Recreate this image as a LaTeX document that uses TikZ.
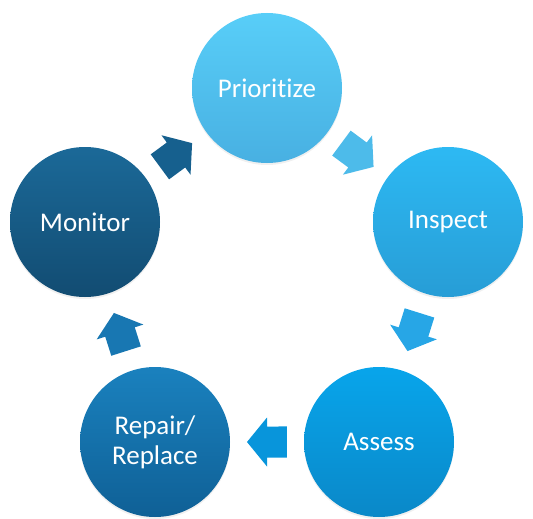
\documentclass[tikz,border=0pt]{standalone}
\usepackage{fontspec}
\setmainfont{Carlito}[Ligatures={NoCommon}]
\usetikzlibrary{calc,shadows}
\definecolor{pTop}{HTML}{58CEF8}\definecolor{pBot}{HTML}{48B0E2}
\definecolor{iTop}{HTML}{2DB9F3}\definecolor{iBot}{HTML}{279DD6}
\definecolor{aTop}{HTML}{08A5EB}\definecolor{aBot}{HTML}{0A88C8}
\definecolor{rTop}{HTML}{1A81BE}\definecolor{rBot}{HTML}{0F6096}
\definecolor{mTop}{HTML}{1B6998}\definecolor{mBot}{HTML}{124C72}
\definecolor{arA}{HTML}{4DBBEA}\definecolor{arB}{HTML}{27A6E6}
\definecolor{arC}{HTML}{0895DB}\definecolor{arD}{HTML}{1877B2}
\definecolor{arE}{HTML}{16608E}
\tikzset{
  stage/.style={circle, minimum size=150pt, inner sep=0pt, text=white,
    font=\fontsize{27}{30}\selectfont, align=center,
    drop shadow={opacity=0.12, shadow xshift=0pt, shadow yshift=-2pt}},
  blockarrow/.style={draw=none}
}
\newcommand\flowarrow[3]{%
  \path let \p1=($(#2)-(#1)$), \n1={atan2(\y1,\x1)},
            \p2=($(#1)!0.5!(#2)$) in
    [blockarrow, fill=#3]
    ($(\p2)+(\n1:20pt)$) -- ($(\p2)+(\n1+90:24.5pt)$)
    -- ($(\p2)+(\n1+90:15.5pt)$) -- ($(\p2)+(\n1+142.2:25.3pt)$)
    -- ($(\p2)+(\n1-142.2:25.3pt)$) -- ($(\p2)+(\n1-90:15.5pt)$)
    -- ($(\p2)+(\n1-90:24.5pt)$) -- cycle;}
\begin{document}
\begin{tikzpicture}[x=1pt,y=-1pt]
\useasboundingbox (0,0) rectangle (533,519);
\node[stage, top color=pTop, bottom color=pBot] (pri) at (267,88) {Prioritize};
\node[stage, top color=iTop, bottom color=iBot] (ins) at (448,222) {Inspect};
\node[stage, top color=aTop, bottom color=aBot] (ass) at (379,442) {Assess};
\node[stage, top color=rTop, bottom color=rBot] (rep) at (155,442) {Repair/\\Replace};
\node[stage, top color=mTop, bottom color=mBot] (mon) at (85,222) {Monitor};
\flowarrow{pri}{ins}{arA}
\flowarrow{ins}{ass}{arB}
\flowarrow{ass}{rep}{arC}
\flowarrow{rep}{mon}{arD}
\flowarrow{mon}{pri}{arE}
\end{tikzpicture}
\end{document}
